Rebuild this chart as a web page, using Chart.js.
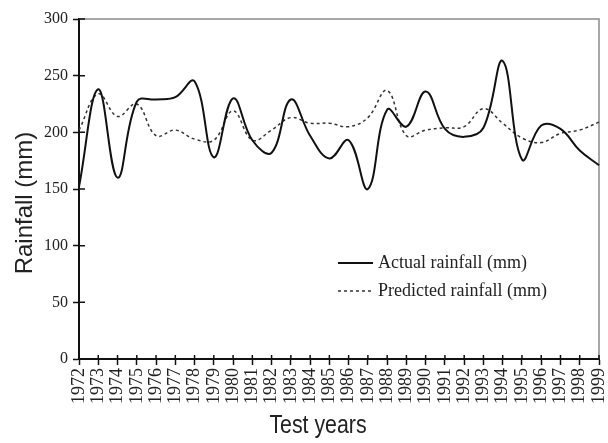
<!DOCTYPE html>
<html>
<head>
<meta charset="utf-8">
<title>Rainfall</title>
<script src="https://cdn.jsdelivr.net/npm/chart.js@4.4.1/dist/chart.umd.min.js"></script>
<style>
    body { margin: 0; background: #fff; }
    canvas { display: block; }
</style>
</head>
<body>
<canvas id="chart" width="608" height="443"></canvas>
<script>
const years = ["1972", "1973", "1974", "1975", "1976", "1977", "1978", "1979", "1980", "1981",
    "1982", "1983", "1984", "1985", "1986", "1987", "1988", "1989", "1990", "1991",
    "1992", "1993", "1994", "1995", "1996", "1997", "1998", "1999"];

const actualRainfall = [152, 238, 160, 227, 229, 231, 245, 178, 230, 193,
    182, 229, 197, 177, 193, 150, 220, 205, 236, 203,
    196, 204, 263, 176, 206, 203, 184, 171];

const predictedRainfall = [202, 234, 214, 225, 197, 202, 194, 193, 219, 193,
    202, 213, 208, 208, 205, 213, 237, 197, 202, 204,
    205, 221, 208, 195, 191, 199, 202, 209];

const yTicks = [0, 50, 100, 150, 200, 250, 300];

const serif = '"Liberation Serif", "Times New Roman", serif';

// box, inner tick halves, titles and the legend inside the plot
const decor = {
    id: 'decor',
    beforeDatasetsDraw(chart) {
        const { ctx, chartArea: a, scales } = chart;
        ctx.save();
        ctx.strokeStyle = '#8a8a8a';
        ctx.lineWidth = 1.5;
        ctx.beginPath();
        ctx.moveTo(a.left, a.top);
        ctx.lineTo(a.right, a.top);
        ctx.lineTo(a.right, a.bottom);
        ctx.stroke();

        ctx.strokeStyle = '#111';
        ctx.lineWidth = 1.5;
        ctx.beginPath();
        for (let v of yTicks) {
            const y = scales.y.getPixelForValue(v);
            ctx.moveTo(a.left, y);
            ctx.lineTo(a.left + 6, y);
        }
        for (let i = 0; i < years.length; i++) {
            const x = scales.x.getPixelForValue(i);
            ctx.moveTo(x, a.bottom);
            ctx.lineTo(x, a.bottom - 4);
        }
        ctx.stroke();
        ctx.restore();
    },
    afterDraw(chart) {
        const { ctx } = chart;
        ctx.save();
        ctx.fillStyle = '#222';

        ctx.font = '24px "Liberation Sans", Arial, sans-serif';
        ctx.textAlign = 'center';
        ctx.textBaseline = 'middle';
        ctx.translate(25, 203);
        ctx.rotate(-Math.PI / 2);
        ctx.fillText('Rainfall (mm)', 0, 0);
        ctx.setTransform(1, 0, 0, 1, 0, 0);

        // the x title is narrow in the original
        ctx.font = '26px "Liberation Sans", Arial, sans-serif';
        ctx.textBaseline = 'alphabetic';
        ctx.translate(318, 433);
        ctx.scale(0.82, 1);
        ctx.fillText('Test years', 0, 0);
        ctx.setTransform(1, 0, 0, 1, 0, 0);

        // legend
        const rows = [
            { ds: chart.data.datasets[0], y: 263 },
            { ds: chart.data.datasets[1], y: 291 }
        ];
        ctx.font = '18px ' + serif;
        ctx.textAlign = 'left';
        ctx.textBaseline = 'middle';
        for (let r of rows) {
            ctx.strokeStyle = r.ds.borderColor;
            ctx.lineWidth = r.ds.borderWidth;
            ctx.setLineDash(r.ds.borderDash || []);
            ctx.beginPath();
            ctx.moveTo(338, r.y);
            ctx.lineTo(373, r.y);
            ctx.stroke();
            ctx.setLineDash([]);
            ctx.fillText(r.ds.label, 378, r.y);
        }
        ctx.restore();
    }
};

new Chart(document.getElementById('chart'), {
    type: 'line',
    data: {
        labels: years,
        datasets: [{
            label: 'Actual rainfall (mm)',
            data: actualRainfall,
            borderColor: '#111',
            borderWidth: 2,
            pointRadius: 0,
            tension: 0.4,
            fill: false
        }, {
            label: 'Predicted rainfall (mm)',
            data: predictedRainfall,
            borderColor: '#333',
            borderWidth: 1.5,
            borderDash: [3, 3],
            pointRadius: 0,
            tension: 0.4,
            fill: false
        }]
    },
    options: {
        responsive: false,
        animation: false,
        layout: {
            padding: { top: 19, right: 9, left: 0, bottom: 0 }
        },
        plugins: {
            legend: { display: false },
            tooltip: { enabled: false }
        },
        scales: {
            x: {
                offset: false,
                grid: {
                    drawOnChartArea: false,
                    tickLength: 6,
                    tickWidth: 1.5,
                    tickColor: '#111'
                },
                border: { color: '#111', width: 2 },
                ticks: {
                    autoSkip: false,
                    minRotation: 90,
                    maxRotation: 90,
                    padding: 3,
                    color: '#222',
                    font: { family: serif, size: 18 }
                },
                afterFit: (s) => {
                    s.height = 84;
                    s.paddingLeft = 0;
                    s.paddingRight = 0;
                }
            },
            y: {
                min: 0,
                max: 300,
                grid: {
                    drawOnChartArea: false,
                    tickLength: 6,
                    tickWidth: 1.5,
                    tickColor: '#111'
                },
                border: { color: '#111', width: 2 },
                ticks: {
                    stepSize: 50,
                    padding: 5,
                    color: '#222',
                    font: { family: serif, size: 16 }
                },
                afterFit: (s) => { s.width = 79; }
            }
        }
    },
    plugins: [decor]
});
</script>
</body>
</html>
